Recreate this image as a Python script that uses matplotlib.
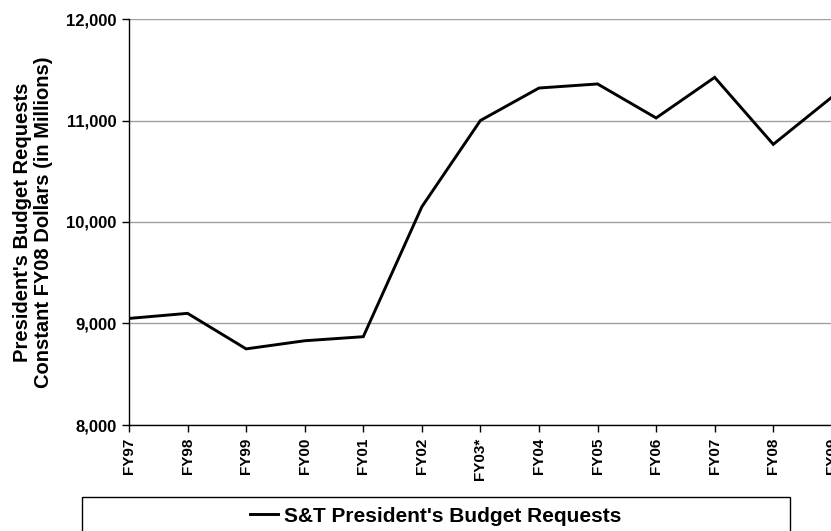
import numpy as np
import matplotlib
matplotlib.use('Agg')
import matplotlib.pyplot as plt
from matplotlib.patches import Rectangle
from matplotlib.ticker import FuncFormatter

# data
years = ['FY97', 'FY98', 'FY99', 'FY00', 'FY01', 'FY02', 'FY03*',
         'FY04', 'FY05', 'FY06', 'FY07', 'FY08', 'FY09']
requests = [9050, 9100, 8750, 8830, 8870, 10150, 11000,
            11320, 11360, 11025, 11425, 10765, 11230]

plt.rcParams['font.family'] = ['Liberation Sans', 'DejaVu Sans']
plt.rcParams['font.weight'] = 'bold'

fig = plt.figure(figsize=(8.31, 5.31), dpi=100)
ax = fig.add_axes([129/831, 1 - 425/531, 1 - 129/831 + 0.001, (425 - 19)/531])

x = np.arange(len(years))
ax.plot(x, requests, color='black', lw=2.1, solid_joinstyle='miter',
        label="S&T President's Budget Requests")

ax.set_xlim(0, 12)
ax.set_ylim(8000, 12000)
ax.set_xticks(x)
ax.set_xticklabels(years, rotation=90, fontsize=11, fontweight='bold')
ax.set_yticks([8000, 9000, 10000, 11000, 12000])
ax.yaxis.set_major_formatter(FuncFormatter(lambda v, p: '{:,.0f}'.format(v)))
for lab in ax.get_yticklabels():
    lab.set_fontsize(12)
    lab.set_fontweight('bold')
ax.tick_params(axis='both', direction='out', length=5, width=1, pad=4)
ax.yaxis.grid(True, color='#a0a0a0', lw=1)
ax.set_axisbelow(True)
for s in ['top', 'right']:
    ax.spines[s].set_visible(False)
ax.spines['left'].set_linewidth(1)
ax.spines['bottom'].set_linewidth(1)

ax.set_ylabel("President's Budget Requests\nConstant FY08 Dollars (in Millions)",
              fontsize=14.5, fontweight='bold', labelpad=9, linespacing=1.15)

# legend box
fig.patches.append(Rectangle((82/831, -0.02), (790 - 82)/831, 0.02 + 1 - 497/531,
                             transform=fig.transFigure, fill=False,
                             edgecolor='black', lw=1))
fig.legend(loc='center', bbox_to_anchor=(436/831, 1 - 516/531), frameon=False,
           prop={'size': 15, 'weight': 'bold'}, handlelength=1.35,
           handletextpad=0.3)

fig.savefig('out.png', dpi=100)
